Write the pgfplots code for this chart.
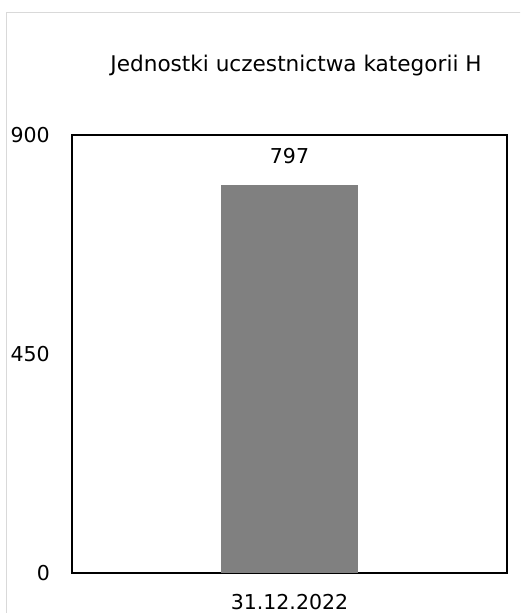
\documentclass[border=0pt]{standalone}
\usepackage{fontspec}
\setmainfont{DejaVu Sans}
\usepackage{pgfplots}
\pgfplotsset{compat=1.18}
\definecolor{framegray}{RGB}{217,217,217}
\definecolor{bargray}{RGB}{128,128,128}
\newcommand{\chartfont}{\fontsize{20.5}{24}\selectfont}
\begin{document}
\begin{tikzpicture}[x=1pt,y=1pt]
\path[use as bounding box] (0,0) rectangle (520,613);
\clip (0,0) rectangle (520,613);
\draw[framegray, line width=1.6pt] (6.5,600.5) rectangle (560,-30);
\node[anchor=base, inner sep=0, font=\fontsize{21.6}{26}\selectfont] at (296,541) {Jednostki uczestnictwa kategorii H};
\begin{axis}[
  at={(72pt,40pt)}, anchor=south west,
  scale only axis, width=435pt, height=438pt,
  xmin=-1, xmax=1, ymin=0, ymax=900,
  ytick={0,450,900}, xtick={0}, xticklabels={31.12.2022},
  major tick length=0,
  axis line style={line width=1.5pt, black},
  /pgf/number format/assume math mode=true,
  tick label style={font=\chartfont},
  yticklabel style={anchor=east, inner sep=0, xshift=-22pt},
  xticklabel style={anchor=base, inner sep=0, yshift=-37pt},
  clip=false,
]
\addplot[ybar, fill=bargray, draw=none, bar width=137pt,
  nodes near coords,
  nodes near coords style={anchor=base, inner sep=0, yshift=22pt, font=\chartfont, /pgf/number format/assume math mode=true}]
  coordinates {(0,797)};
\end{axis}
\end{tikzpicture}
\end{document}
